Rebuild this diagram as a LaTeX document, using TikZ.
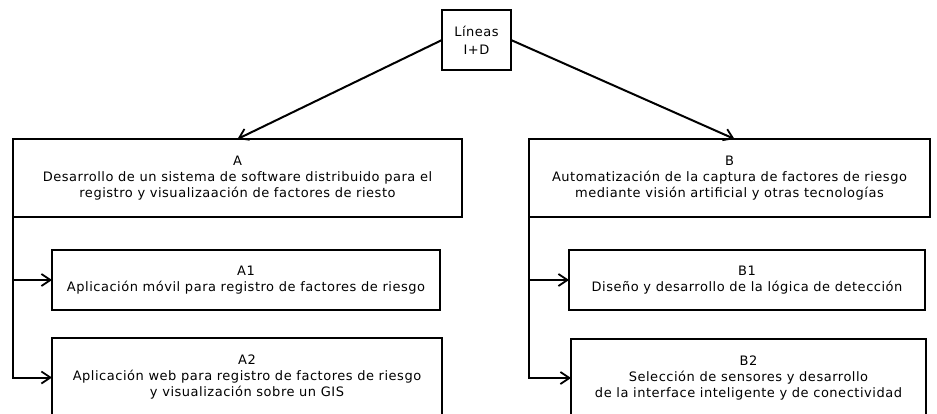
\documentclass[tikz,border=0pt]{standalone}
\usepackage{fontspec}
\setmainfont{DejaVu Sans}[LetterSpace=4]
\usetikzlibrary{arrows.meta}
\begin{document}
\begin{tikzpicture}[x=1pt,y=-1pt,
  box/.style={draw=black, line width=1.8pt, fill=white, align=center, inner sep=0pt, outer sep=0pt,
    font=\fontsize{13}{16}\selectfont},
  conn/.style={line width=2pt, -{Straight Barb[length=9pt,width=12pt,line width=1.8pt]}}]
\path[use as bounding box, clip] (0,0) rectangle (937,414);
\fill[white] (0,0) rectangle (937,414);
\node[box, minimum width=69pt, minimum height=60pt, font=\fontsize{13}{18}\selectfont] (top) at (476.5,40) {Líneas\\I+D};
\node[box, minimum width=449pt, minimum height=78pt] (A) at (237.5,178) {A\\Desarrollo de un sistema de software distribuido para el\\registro y visualizaación de factores de riesto};
\node[box, minimum width=401pt, minimum height=78pt] (B) at (729.5,178) {B\\Automatización de la captura de factores de riesgo\\mediante visión artificial y otras tecnologías};
\node[box, minimum width=388pt, minimum height=60pt] (A1) at (246,280) {A1\\Aplicación móvil para registro de factores de riesgo};
\node[box, minimum width=390pt, minimum height=79pt] (A2) at (247,377.5) {A2\\Aplicación web para registro de factores de riesgo\\y visualización sobre un GIS};
\node[box, minimum width=356pt, minimum height=60pt] (B1) at (747,280) {B1\\Diseño y desarrollo de la lógica de detección};
\node[box, minimum width=355pt, minimum height=78pt] (B2) at (748.5,378) {B2\\Selección de sensores y desarrollo\\de la interface inteligente y de conectividad};
\draw[conn] (top.west) -- (A.north);
\draw[conn] (top.east) -- ([xshift=5pt]B.north);
\draw[conn] (A.south west) |- (A1.west);
\draw[conn] (A.south west) |- (A2.west);
\draw[conn] (B.south west) |- (B1.west);
\draw[conn] (B.south west) |- (B2.west);
\end{tikzpicture}
\end{document}
